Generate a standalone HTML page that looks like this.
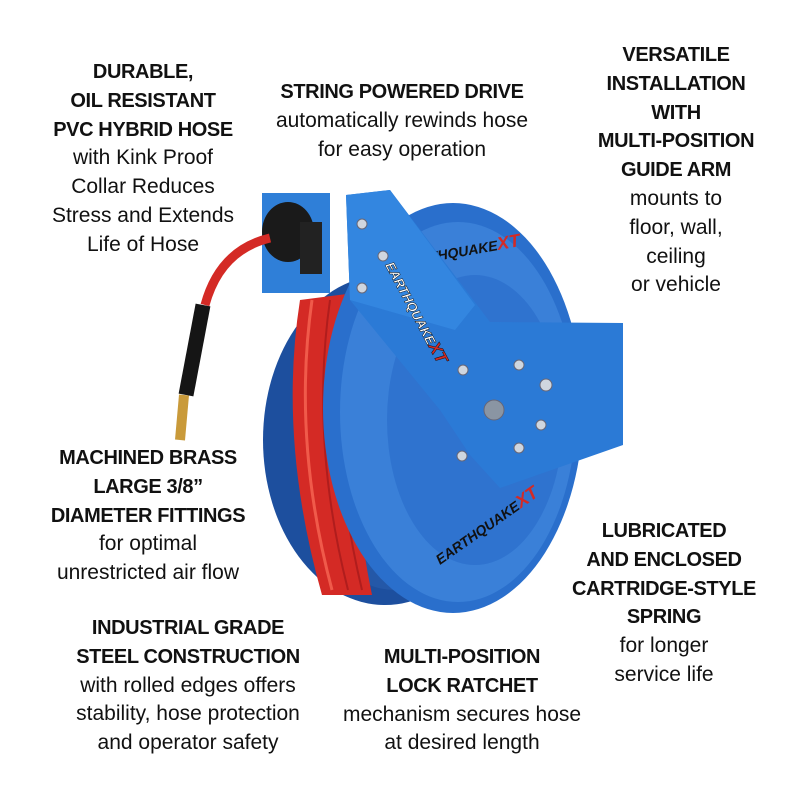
<!DOCTYPE html>
<html><head><meta charset="utf-8"><style>
body{margin:0;width:800px;height:800px;background:#fff;position:relative;overflow:hidden;font-family:"Liberation Sans",sans-serif;color:#111}
.t{position:absolute;text-align:center;font-size:21px;line-height:28.8px;white-space:nowrap;transform:translateX(-50%)}
.t b{font-weight:bold;font-size:20px;letter-spacing:-0.4px}
</style></head><body>
<svg width="800" height="800" style="position:absolute;left:0;top:0">
<!-- back disc -->
<ellipse cx="385" cy="440" rx="122" ry="165" fill="#1d4f9e"/>
<ellipse cx="395" cy="440" rx="100" ry="150" fill="#2458a8"/>
<!-- hose coil -->
<path d="M300 300 Q278 440 322 595 L372 595 Q340 440 362 292 Z" fill="#d42a25"/>
<path d="M312 300 Q292 440 332 590" stroke="#f05a4a" stroke-width="3" fill="none"/>
<path d="M330 300 Q310 440 348 590" stroke="#b01d1d" stroke-width="2" fill="none"/>
<path d="M346 298 Q326 440 362 590" stroke="#b01d1d" stroke-width="2" fill="none"/>
<!-- front disc -->
<ellipse cx="453" cy="408" rx="130" ry="205" fill="#2a6fcc"/>
<ellipse cx="458" cy="412" rx="118" ry="190" fill="#3a80d8"/>
<ellipse cx="475" cy="420" rx="88" ry="145" fill="#2f73cf"/>
<!-- logos -->
<text x="0" y="0" transform="translate(430,262) rotate(-10)" font-family="Liberation Sans" font-weight="bold" font-style="italic" font-size="14" fill="#111">THQUAKE<tspan fill="#d42a25" font-size="18">XT</tspan></text>
<text x="0" y="0" transform="translate(440,565) rotate(-35)" font-family="Liberation Sans" font-weight="bold" font-style="italic" font-size="14" fill="#111">EARTHQUAKE<tspan fill="#d42a25" font-size="18">XT</tspan></text>
<!-- arm -->
<polygon points="346,195 390,190 490,322 623,323 623,445 500,488 470,455 440,410 350,300" fill="#2b7ad6"/>
<polygon points="346,195 390,190 475,305 455,330 350,300" fill="#3386e0"/>
<text x="0" y="0" transform="translate(385,265) rotate(62)" font-family="Liberation Sans" font-weight="bold" font-style="italic" font-size="13" fill="#fff" stroke="#111" stroke-width="0.5">EARTHQUAKE<tspan fill="#d42a25" font-size="17">XT</tspan></text>
<g fill="#cfd6df" stroke="#667" stroke-width="1">
<circle cx="362" cy="224" r="5"/><circle cx="383" cy="256" r="5"/><circle cx="362" cy="288" r="5"/>
<circle cx="463" cy="370" r="5"/><circle cx="519" cy="365" r="5"/><circle cx="546" cy="385" r="6"/>
<circle cx="462" cy="456" r="5"/><circle cx="519" cy="448" r="5"/><circle cx="541" cy="425" r="5"/>
<circle cx="494" cy="410" r="10" fill="#8a95a3"/>
</g>
<!-- wall plate -->
<rect x="262" y="193" width="68" height="100" fill="#2f7fd8"/>
<ellipse cx="288" cy="232" rx="26" ry="30" fill="#1a1a1a"/>
<rect x="300" y="222" width="22" height="52" fill="#222"/>
<!-- hose lead -->
<path d="M270 238 Q220 250 205 305" stroke="#d42a25" stroke-width="9" fill="none"/>
<path d="M203 305 L186 395" stroke="#151515" stroke-width="15" fill="none"/>
<path d="M184 395 L180 440" stroke="#c99a3a" stroke-width="10" fill="none"/>
</svg>
<div class="t" style="left:143px;top:58px"><b>DURABLE,<br>OIL RESISTANT<br>PVC HYBRID HOSE</b><br>with Kink Proof<br>Collar Reduces<br>Stress and Extends<br>Life of Hose</div>
<div class="t" style="left:402px;top:78px"><b>STRING POWERED DRIVE</b><br>automatically rewinds hose<br>for easy operation</div>
<div class="t" style="left:676px;top:41px"><b>VERSATILE<br>INSTALLATION<br>WITH<br>MULTI-POSITION<br>GUIDE ARM</b><br>mounts to<br>floor, wall,<br>ceiling<br>or vehicle</div>
<div class="t" style="left:148px;top:444px"><b>MACHINED BRASS<br>LARGE 3/8”<br>DIAMETER FITTINGS</b><br>for optimal<br>unrestricted air flow</div>
<div class="t" style="left:664px;top:517px"><b>LUBRICATED<br>AND ENCLOSED<br>CARTRIDGE-STYLE<br>SPRING</b><br>for longer<br>service life</div>
<div class="t" style="left:188px;top:614px"><b>INDUSTRIAL GRADE<br>STEEL CONSTRUCTION</b><br>with rolled edges offers<br>stability, hose protection<br>and operator safety</div>
<div class="t" style="left:462px;top:643px"><b>MULTI-POSITION<br>LOCK RATCHET</b><br>mechanism secures hose<br>at desired length</div>
</body></html>
